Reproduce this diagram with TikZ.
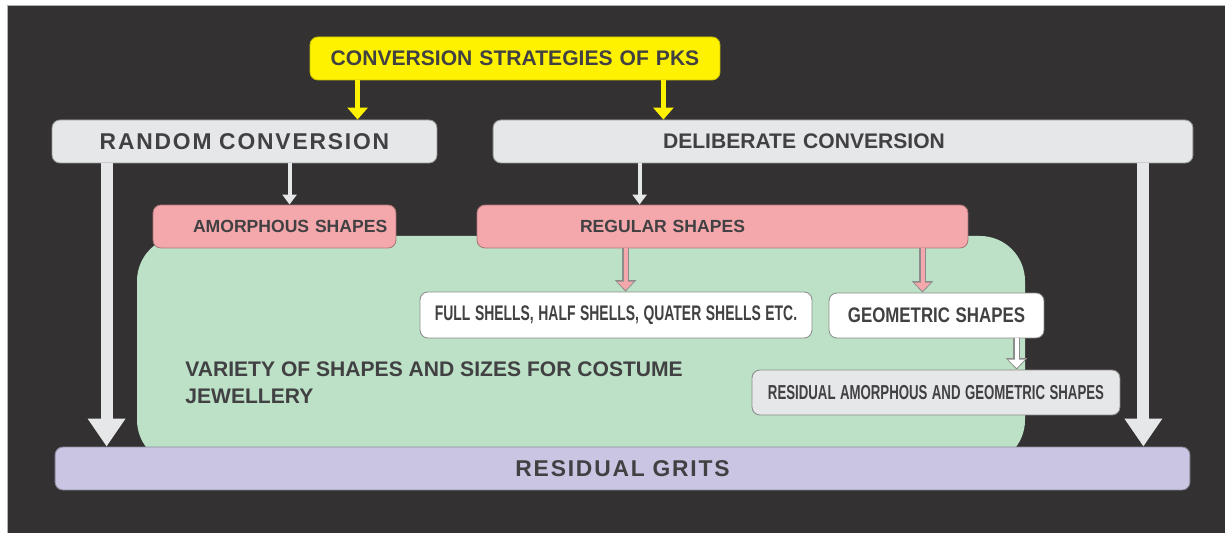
\documentclass[tikz,border=0pt]{standalone}
\usepackage{fontspec}
\setmainfont{Liberation Sans}
\newfontfamily\spacedfont[LetterSpace=8]{Liberation Sans}
\usepackage{graphicx}
\usetikzlibrary{arrows.meta, positioning, calc}
\definecolor{pdark}{HTML}{333132}
\definecolor{pyellow}{HTML}{FFF200}
\definecolor{pgray}{HTML}{E6E7E8}
\definecolor{ppink}{HTML}{F4A8AC}
\definecolor{pgreen}{HTML}{BCE1C6}
\definecolor{plav}{HTML}{C9C5E2}
\definecolor{ptext}{HTML}{414042}
\newcommand{\squeeze}[2]{\scalebox{#1}[1]{#2}}
\tikzset{
  cbox/.style={rounded corners=4.5pt, draw=black!40, line width=0.5pt, inner sep=0pt,
               minimum height=0.86cm, align=center, text=ptext,
               font=\bfseries\fontsize{12}{14}\selectfont},
  ybox/.style={cbox, fill=pyellow, draw=pyellow!80!black},
  gbox/.style={cbox, fill=pgray},
  pbox/.style={cbox, fill=ppink, draw=ppink!70!black, font=\bfseries\fontsize{10}{12}\selectfont},
  wbox/.style={cbox, fill=white, draw=black!45, minimum height=0.9cm},
  lbox/.style={cbox, fill=plav, draw=plav!70!black},
  widetext/.style={font=\bfseries\fontsize{13}{15}\selectfont\spacedfont},
  yarr/.style={-{Triangle[width=0.4cm, length=0.24cm]}, line width=0.1cm, pyellow},
  bigarr/.style={-{Triangle[width=0.72cm, length=0.56cm]}, line width=0.24cm, pgray},
  sarr/.style={-{Triangle[width=0.28cm, length=0.2cm]}, line width=0.08cm, pgray},
  parr/.style={-{Triangle[width=0.32cm, length=0.17cm]}, line width=0.08cm, ppink, shorten >=0.03cm,
               preaction={draw=black!45, line width=0.13cm, shorten >=0cm,
                          -{Triangle[width=0.42cm, length=0.23cm]}}},
  warr/.style={parr, white},
}

\begin{document}
\begin{tikzpicture}[x=0.02cm, y=-0.02cm]

  %% Frame
  \useasboundingbox (0,0) rectangle (1225,533);
  \fill[white] (0,0) rectangle (1225,533);
  \fill[pdark] (7,5) rectangle (1225,533);
  \draw[black!30, line width=0.5pt] (7,533) -- (7,5) -- (1225,5);

  %% Jewellery region (behind the shape boxes)
  \fill[pgreen, rounded corners=0.9cm] (137,236) rectangle (1025,465);
  \node[anchor=north west, inner sep=0pt, align=left, text=ptext,
        font=\bfseries\fontsize{12}{15.5}\selectfont] (variety) at (185,361)
        {VARIETY OF SHAPES AND SIZES FOR COSTUME\\JEWELLERY};

  %% Boxes
  \node[ybox, text width=8.2cm] (pks) at (515,58.5) {CONVERSION STRATEGIES OF PKS};
  \node[gbox, widetext, text width=7.7cm] (random) at (244.5,141.5) {RANDOM CONVERSION};
  \node[gbox, text width=14cm, align=left] (deliberate) at (843,141.5)
        {\hspace*{3.4cm}DELIBERATE CONVERSION};
  \node[pbox, text width=4.86cm, align=left] (amorph) at (274.5,226.5)
        {\hspace*{0.8cm}AMORPHOUS SHAPES};
  \node[pbox, text width=9.82cm, align=left] (regular) at (722.5,226.5)
        {\hspace*{2.06cm}REGULAR SHAPES};
  \node[wbox, text width=7.84cm, minimum height=0.92cm] (shells) at (616,315)
        {\squeeze{0.66}{FULL SHELLS, HALF SHELLS, QUATER SHELLS ETC.}};
  \node[wbox, text width=4.3cm] (geom) at (936.5,315.5) {\squeeze{0.8}{GEOMETRIC SHAPES}};
  \node[gbox, text width=7.36cm, minimum height=0.9cm, draw=black!45,
        font=\bfseries\fontsize{11.5}{13}\selectfont] (resid) at (936,392.5)
        {\squeeze{0.655}{RESIDUAL AMORPHOUS AND GEOMETRIC SHAPES}};
  \node[lbox, widetext, text width=22.7cm] (grits) at (622.5,468.5) {RESIDUAL GRITS};

  %% Strategy split
  \draw[yarr] ([xshift=0.96cm]pks.south west) -- ([xshift=0.96cm]pks.south west |- random.north);
  \draw[yarr] ([xshift=-1.14cm]pks.south east) -- ([xshift=-1.14cm]pks.south east |- deliberate.north);

  %% Straight to grits
  \draw[bigarr] ([xshift=1.1cm]random.south west) -- ([xshift=1.1cm]random.south west |- grits.north);
  \draw[bigarr] ([xshift=-1.0cm]deliberate.south east) -- ([xshift=-1.0cm]deliberate.south east |- grits.north);

  %% Into shapes
  \draw[sarr] ([xshift=4.76cm]random.south west) -- ([xshift=4.76cm]random.south west |- amorph.north);
  \draw[sarr] ([xshift=2.94cm]deliberate.south west) -- ([xshift=2.94cm]deliberate.south west |- regular.north);
  \draw[parr] ([xshift=2.98cm]regular.south west) -- ([xshift=2.98cm]regular.south west |- shells.north);
  \draw[parr] ([xshift=8.92cm]regular.south west) -- ([xshift=8.92cm]regular.south west |- geom.north);
  \draw[warr] ([xshift=3.76cm]geom.south west) -- ([xshift=3.76cm]geom.south west |- resid.north);

\end{tikzpicture}
\end{document}
